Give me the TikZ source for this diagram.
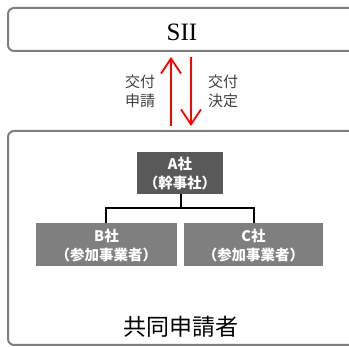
\documentclass[tikz,border=0pt]{standalone}
\usepackage{fontspec}
\setmainfont{Liberation Serif}
\newfontfamily\jp{Noto Sans CJK JP}
\usetikzlibrary{arrows.meta}
\definecolor{frame}{HTML}{7F7F7F}
\definecolor{adark}{HTML}{595959}
\definecolor{bgray}{HTML}{7F7F7F}
\tikzset{
  outer/.style={draw=frame,line width=2pt,rounded corners=6pt,fill=white},
  company/.style={inner sep=0pt,text=white,font=\jp\bfseries\fontsize{14.5}{19}\selectfont,align=center},
  link/.style={draw=black,line width=1.6pt},
  flow/.style={draw=red,line width=1.8pt,-{Straight Barb[length=15pt,width=20pt,line width=1.8pt]}},
  lbl/.style={font=\jp\fontsize{15}{19}\selectfont,text=black!75,align=center}
}
\begin{document}
\begin{tikzpicture}[x=1pt,y=-1pt]
\useasboundingbox (0,0) rectangle (349,347);
\draw[outer] (8,8) rectangle (370,51);
\node[font=\fontsize{25}{27}\selectfont] (sii) at (182,32) {SII};
\draw[outer] (8,131) rectangle (355,345);
\node[font=\jp\fontsize{23}{26}\selectfont] (kyodo) at (181,327) {共同申請者};
\fill[adark] (137,152) rectangle (223,194);
\node[company] (a) at (180,174) {A社\\（幹事社）};
\fill[bgray] (36,223) rectangle (177,266);
\node[company] (b) at (106.5,246) {B社\\（参加事業者）};
\fill[bgray] (184,223) rectangle (323,266);
\node[company] (c) at (253.5,246) {C社\\（参加事業者）};
\coordinate (atop) at (181,194);
\coordinate (mid) at (181,208);
\coordinate (btop) at (106,223);
\coordinate (ctop) at (254,223);
\draw[link] (atop) -- (mid);
\draw[link] (btop) |- (mid) -| (ctop);
\coordinate (u0) at (171,126);
\coordinate (u1) at (171,57);
\coordinate (d0) at (191,57);
\coordinate (d1) at (191,126);
\draw[flow] (u0) -- (u1);
\draw[flow] (d0) -- (d1);
\node[lbl] (l1) at (140,91) {交付\\申請};
\node[lbl] (l2) at (223,91) {交付\\決定};
\end{tikzpicture}
\end{document}
